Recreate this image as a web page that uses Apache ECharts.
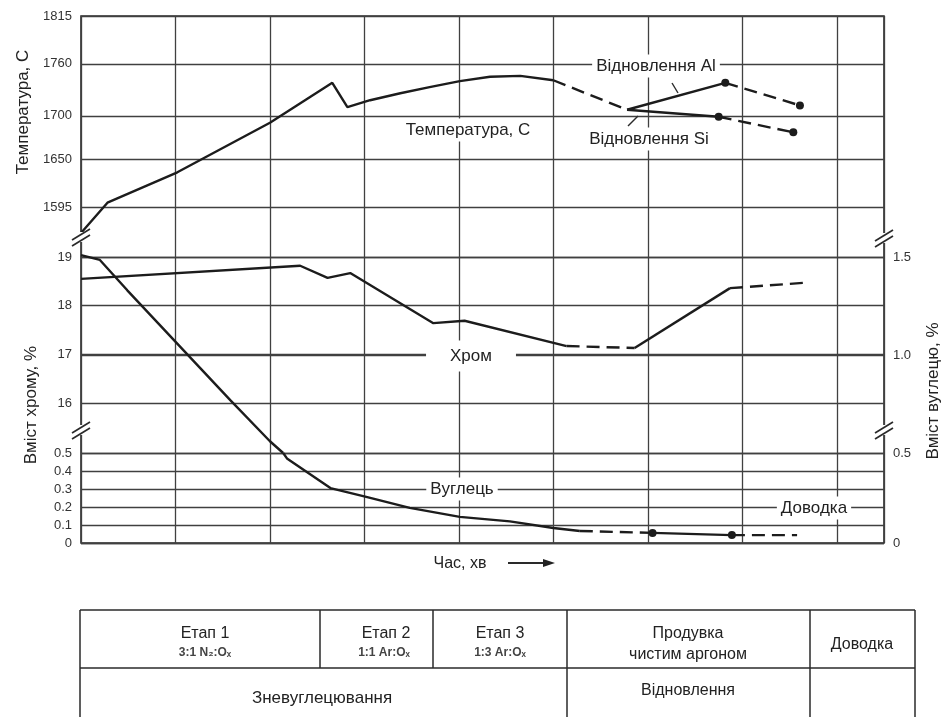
<!DOCTYPE html>
<html>
<head>
<meta charset="utf-8">
<script src="https://cdn.jsdelivr.net/npm/echarts@6/dist/echarts.min.js"></script>
<style>
  html, body { margin: 0; padding: 0; background: #fff; }
  #chart { width: 946px; height: 717px; }
</style>
</head>
<body>
<div id="chart"></div>
<script>
// tick labels of the broken axes
const tempTicks = [1595, 1650, 1700, 1760, 1815];
const chromeTicks = [16, 17, 18, 19];
const carbonLowTicks = [0, 0.1, 0.2, 0.3, 0.4, 0.5];
const carbonHighTicks = [1.0, 1.5];
const carbonRightLowTicks = [0, 0.5];

// time is in grid divisions (axis has no numbers)
const tempTime = [0, 0.28, 1.02, 2.0, 2.66, 2.82, 3.06, 3.38, 3.69, 4.01, 4.33, 4.65, 5.0];
const tempValues = [1565, 1600, 1635, 1692, 1738, 1710, 1718, 1726, 1733, 1740, 1745, 1746, 1741];
const tempDashTime = [5.0, 5.39, 5.78];
const tempDashValues = [1741, 1724, 1707];
const alTime = [5.78, 6.82];
const alValues = [1707, 1738];
const alDashTime = [6.82, 7.61];
const alDashValues = [1738, 1712];
const siTime = [5.78, 6.75];
const siValues = [1707, 1699];
const siDashTime = [6.75, 7.54];
const siDashValues = [1699, 1681];

const chromeTime = [0, 2.32, 2.61, 2.85, 3.73, 4.06, 5.14];
const chromeValues = [18.55, 18.82, 18.57, 18.67, 17.64, 17.69, 17.17];
const chromeDashTime = [5.14, 5.86];
const chromeDashValues = [17.17, 17.13];
const chromeRiseTime = [5.86, 6.87];
const chromeRiseValues = [17.13, 18.36];
const chromeTailTime = [6.87, 7.66];
const chromeTailValues = [18.36, 18.47];

// carbon above 0.5 % is read on the right scale, below on the 0..0.5 scale
const carbonHighTime = [0, 0.2, 0.49, 1.58, 2.0, 2.14];
const carbonHighValues = [1.51, 1.485, 1.33, 0.77, 0.56, 0.5];
const carbonLowTime = [2.14, 2.18, 2.64, 3.03, 3.48, 4.01, 4.54, 5.0, 5.28];
const carbonLowValues = [0.5, 0.47, 0.305, 0.255, 0.195, 0.145, 0.12, 0.083, 0.067];
const carbonDashTime = [5.28, 6.05];
const carbonDashValues = [0.067, 0.056];
const carbonMidTime = [6.05, 6.89];
const carbonMidValues = [0.056, 0.044];
const carbonTailTime = [6.89, 7.58];
const carbonTailValues = [0.044, 0.044];

const ink = "#1c1c1c";
const gridInk = "#404040";
const font = "'Liberation Sans', Arial, sans-serif";
const narrow = "'Liberation Sans Narrow', 'Liberation Sans', Arial, sans-serif";

const pairs = (xs, ys) => xs.map((x, i) => [x, ys[i]]);
const fmt = v => (v === 0 ? "0" : v.toFixed(1));
const intFmt = v => String(Math.round(v));

function yAxis(min, max, ticks, position, formatter) {
  return {
    type: "value", min, max, position,
    axisLine: { show: false },
    axisTick: { show: false, customValues: ticks },
    axisLabel: { customValues: ticks, margin: 9, color: "#333", fontFamily: narrow, fontSize: 13, formatter },
    splitLine: { show: true, lineStyle: { color: gridInk, width: 1.3 } }
  };
}

function line(xs, ys, yIdx, dashed, dots) {
  return {
    type: "line", data: pairs(xs, ys), yAxisIndex: yIdx,
    symbol: dots ? "circle" : "none", symbolSize: 8, showSymbol: !!dots,
    itemStyle: { color: ink },
    lineStyle: { color: ink, width: 2.4, type: dashed ? [13, 7] : "solid" },
    silent: true, z: 5
  };
}

function text(str, x, y, size, opts, rotation) {
  return {
    type: "text", x, y, z: 100, silent: true, rotation: rotation || 0,
    style: Object.assign({ text: str, fill: "#222", font: size + "px " + font, align: "center", verticalAlign: "middle" }, opts || {})
  };
}

function seg(x1, y1, x2, y2, w) {
  return { type: "line", z: 100, silent: true, shape: { x1, y1, x2, y2 }, style: { stroke: "#2a2a2a", lineWidth: w || 1.5 } };
}

function breakMark(x, y) {
  return [
    { type: "rect", z: 99, silent: true, shape: { x: x - 3, y: y - 5, width: 6, height: 10 }, style: { fill: "#fff" } },
    seg(x - 9, y + 3, x + 9, y - 8, 1.7),
    seg(x - 9, y + 9, x + 9, y - 2, 1.7)
  ];
}

const white = { backgroundColor: "#fff", padding: [3, 4] };
const up = -Math.PI / 2 * -1;

const graphics = [
  text("Температура, С", 23, 112, 17, {}, up),
  text("Вміст хрому, %", 31, 405, 17, {}, up),
  text("Вміст вуглецю, %", 933, 391, 17, {}, up),
  text("Температура, С", 468, 130, 17, white),
  text("Відновлення Al", 656, 66, 17, white),
  text("Відновлення Si", 649, 139, 17, white),
  text("Хром", 471, 356, 17, { backgroundColor: "#fff", padding: [7, 24] }),
  text("Вуглець", 462, 489, 17, white),
  text("Доводка", 814, 508, 17, white),
  text("Час, хв", 460, 564, 16, {}),
  seg(508, 563, 545, 563, 1.8),
  { type: "polygon", z: 100, silent: true, shape: { points: [[555, 563], [543, 559], [543, 567]] }, style: { fill: "#222" } },
  seg(672, 83, 678, 93, 1.4),
  seg(628, 126, 638, 116, 1.4),
  ...breakMark(81, 237), ...breakMark(884, 238),
  ...breakMark(81, 430), ...breakMark(884, 430),
  // stage table
  seg(80, 610, 915, 610), seg(80, 668, 915, 668),
  seg(80, 610, 80, 717), seg(915, 610, 915, 717),
  seg(320, 610, 320, 668), seg(433, 610, 433, 668),
  seg(567, 610, 567, 717), seg(810, 610, 810, 717),
  text("Етап 1", 205, 634, 16, {}),
  text("3:1 N₂:Oₓ", 205, 653, 12, { font: "bold 12px " + font, fill: "#444" }),
  text("Етап 2", 386, 634, 16, {}),
  text("1:1 Ar:Oₓ", 384, 653, 12, { font: "bold 12px " + font, fill: "#444" }),
  text("Етап 3", 500, 634, 16, {}),
  text("1:3 Ar:Oₓ", 500, 653, 12, { font: "bold 12px " + font, fill: "#444" }),
  text("Продувка", 688, 634, 16, {}),
  text("чистим аргоном", 688, 655, 16, {}),
  text("Доводка", 862, 645, 16, {}),
  text("Зневуглецювання", 322, 698, 17, {}),
  text("Відновлення", 688, 691, 16, {})
];

const chart = echarts.init(document.getElementById("chart"), null, { renderer: "canvas" });
chart.setOption({
  animation: false,
  backgroundColor: "#fff",
  grid: { left: 81, right: 62, top: 16, bottom: 174, show: true, borderColor: "#2a2a2a", borderWidth: 1.6 },
  xAxis: {
    type: "value", min: 0, max: 8.5, interval: 1,
    axisLine: { show: false }, axisTick: { show: false }, axisLabel: { show: false },
    splitLine: { show: true, lineStyle: { color: gridInk, width: 1.3 } }
  },
  yAxis: [
    yAxis(1208, 1815, tempTicks, "left", intFmt),
    yAxis(13.123, 23.952, chromeTicks, "left", intFmt),
    yAxis(0, 2.9278, carbonLowTicks, "left", fmt),
    yAxis(0.0408, 2.7296, carbonHighTicks, "right", fmt),
    yAxis(0, 2.9278, carbonRightLowTicks, "right", fmt)
  ],
  series: [
    line(tempTime, tempValues, 0, false),
    line(tempDashTime, tempDashValues, 0, true),
    line(alTime, alValues, 0, false),
    line(alDashTime, alDashValues, 0, true, true),
    line(siTime, siValues, 0, false),
    line(siDashTime, siDashValues, 0, true, true),
    line(chromeTime, chromeValues, 1, false),
    line(chromeDashTime, chromeDashValues, 1, true),
    line(chromeRiseTime, chromeRiseValues, 1, false),
    line(chromeTailTime, chromeTailValues, 1, true),
    line(carbonHighTime, carbonHighValues, 3, false),
    line(carbonLowTime, carbonLowValues, 2, false),
    line(carbonDashTime, carbonDashValues, 2, true),
    line(carbonMidTime, carbonMidValues, 2, false, true),
    line(carbonTailTime, carbonTailValues, 2, true)
  ],
  graphic: graphics
});
</script>
</body>
</html>
